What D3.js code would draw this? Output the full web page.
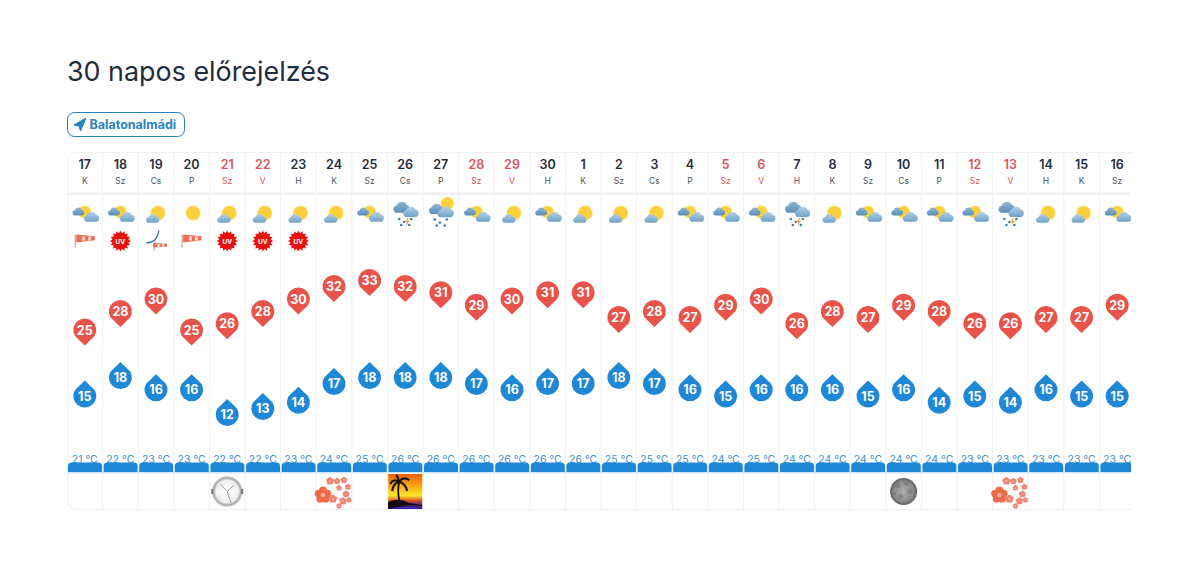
<!DOCTYPE html>
<html lang="hu">
<head>
<meta charset="utf-8">
<script src="https://cdn.jsdelivr.net/npm/d3@7"></script>
<style>
html, body { margin: 0; background: #fff; overflow: hidden; }
text { font-family: Inter, "Noto Sans", sans-serif; }
</style>
</head>
<body>
<svg id="chart" width="1200" height="563"></svg>
<script>
var days = [17,18,19,20,21,22,23,24,25,26,27,28,29,30,1,2,3,4,5,6,7,8,9,10,11,12,13,14,15,16];
var weekdays = ["K","Sz","Cs","P","Sz","V","H","K","Sz","Cs","P","Sz","V","H","K","Sz","Cs","P","Sz","V","H","K","Sz","Cs","P","Sz","V","H","K","Sz"];
var weekend = [4,5,11,12,18,19,25,26];
var highs = [25,28,30,25,26,28,30,32,33,32,31,29,30,31,31,27,28,27,29,30,26,28,27,29,28,26,26,27,27,29];
var lows = [15,18,16,16,12,13,14,17,18,18,18,17,16,17,17,18,17,16,15,16,16,16,15,16,14,15,14,16,15,15];
var means = [21,22,23,23,22,22,23,24,25,26,26,26,26,26,26,25,25,25,24,25,24,24,24,24,24,23,23,23,23,23];
var skies = ["cloudy","cloudy","fair","sun","fair","fair","fair","fair","cloudy","storm","shower","cloudy","fair","cloudy","fair","fair","fair","cloudy","cloudy","cloudy","storm","fair","cloudy","cloudy","cloudy","cloudy","storm","fair","fair","cloudy"];
var badges = ["wind","uv","turbine","wind","uv","uv","uv"];
var events = [null,null,null,null,"clock",null,null,"flower",null,"sunset",null,null,null,null,null,null,null,null,null,null,null,null,null,"moon",null,null,"flower"];

var blue = "#1f88d6", red = "#e8534a", grid = "#eff0f2", ink = "#1f2d3d";
var svg = d3.select("#chart");
var defs = svg.append("defs");

var x = d3.scaleBand().domain(d3.range(days.length)).range([67, 1135]);
var y = d3.scaleLinear().domain([25, 33]).range([330, 280.4]);
var cx = function(i) { return x(i) + x.bandwidth() / 2; };

function grad(id, stops, vertical) {
  var g = defs.append("linearGradient").attr("id", id)
    .attr("x1", 0).attr("y1", 0).attr("x2", vertical ? 0 : 1).attr("y2", vertical ? 1 : 0);
  stops.forEach(function(s) { g.append("stop").attr("offset", s[0]).attr("stop-color", s[1]); });
}
grad("cloudA", [[0, "#b4d0e6"], [1, "#6ea2c8"]], true);
grad("cloudB", [[0, "#8fb6d4"], [1, "#5a90b8"]], true);
grad("sunset", [[0, "#e85f08"], [.3, "#fb9f10"], [.62, "#fde62a"], [.76, "#d8541e"], [.86, "#6a2a7c"], [1, "#2b23b8"]], true);
var rg = defs.append("radialGradient").attr("id", "moon");
rg.append("stop").attr("offset", 0).attr("stop-color", "#b0b0b0");
rg.append("stop").attr("offset", .75).attr("stop-color", "#8a8a8a");
rg.append("stop").attr("offset", 1).attr("stop-color", "#5e5e5e");
var rc = defs.append("radialGradient").attr("id", "clockFace");
rc.append("stop").attr("offset", 0).attr("stop-color", "#ffffff");
rc.append("stop").attr("offset", .72).attr("stop-color", "#f0f0f0");
rc.append("stop").attr("offset", .88).attr("stop-color", "#a8a8a8");
rc.append("stop").attr("offset", 1).attr("stop-color", "#e4e4e4");
var clip = defs.append("clipPath").attr("id", "tableClip");
clip.append("rect").attr("x", 67).attr("y", 152).attr("width", 1064).attr("height", 358);

// title and place button
svg.append("text").attr("x", 67).attr("y", 81).attr("font-size", 27).attr("fill", ink)
  .attr("textLength", 263).attr("lengthAdjust", "spacingAndGlyphs")
  .text("30 napos előrejelzés");
svg.append("rect").attr("x", 67.5).attr("y", 112.5).attr("width", 117).attr("height", 24).attr("rx", 7)
  .attr("fill", "#fff").attr("stroke", "#2a7fb8");
svg.append("path").attr("d", "M74 125 L86 118 L80.5 131 L79 126 Z").attr("fill", "#2a82c4").attr("stroke", "#2a82c4").attr("stroke-linejoin", "round");
svg.append("text").attr("x", 89.5).attr("y", 129).attr("font-size", 12.5).attr("font-weight", 700).attr("fill", "#2a82c4")
  .text("Balatonalmádi");

var table = svg.append("g").attr("clip-path", "url(#tableClip)");

// frame and column rules
table.append("rect").attr("x", 67.5).attr("y", 152.5).attr("width", 1090).attr("height", 357).attr("rx", 9)
  .attr("fill", "#fff").attr("stroke", grid);
table.selectAll("line.col").data(d3.range(1, days.length)).enter().append("line")
  .attr("x1", function(i) { return x(i); }).attr("x2", function(i) { return x(i); })
  .attr("y1", 152).attr("y2", 510).attr("stroke", grid);
table.append("rect").attr("x", 67).attr("y", 192.5).attr("width", 1070).attr("height", 2.5).attr("fill", "#eef0f1");

// day header
var head = table.selectAll("g.day").data(days).enter().append("g")
  .attr("transform", function(d, i) { return "translate(" + cx(i) + ",0)"; });
head.append("text").attr("y", 169).attr("text-anchor", "middle").attr("font-size", 12.5).attr("font-weight", 600)
  .attr("fill", function(d, i) { return weekend.indexOf(i) >= 0 ? "#d8555a" : ink; })
  .text(function(d) { return d; });
head.append("text").attr("y", 184).attr("text-anchor", "middle").attr("font-size", 8.5)
  .attr("fill", function(d, i) { return weekend.indexOf(i) >= 0 ? "#d8555a" : "#4a5560"; })
  .text(function(d, i) { return weekdays[i]; });

// weather icons
function sun(g, px, py, r) {
  var rays = g.append("g").attr("transform", "translate(" + px + "," + py + ")");
  rays.append("circle").attr("r", r + .8).attr("fill", "#fde08a");
  rays.append("circle").attr("r", r).attr("fill", "#fdd03b");
}
function cloud(g, px, py, s, fill) {
  g.append("path").attr("transform", "translate(" + px + "," + py + ") scale(" + s + ")")
    .attr("d", "M-6 5.5 H6 A4.5 4.5 0 0 0 7 -3.4 A6.5 6.5 0 0 0 -5 -3 A4.5 4.5 0 0 0 -6 5.5 Z")
    .attr("fill", fill);
}
function rainDots(g, px, py, bolt) {
  [[-6, 0], [-1, 3], [6, 0], [-4, 6], [4, 6]].forEach(function(p) {
    g.append("circle").attr("cx", px + p[0]).attr("cy", py + p[1]).attr("r", 1.3).attr("fill", "#3f7fb0");
  });
  if (bolt) g.append("path").attr("d", "M" + (px + 2.5) + " " + (py - 1) + "l-2.5 4h2l-1.2 4 3.4-5h-2l1.2-3z").attr("fill", "#f0a030");
}
var drawSky = {
  sun: function(g) { sun(g, 1.5, 213, 6.8); },
  fair: function(g) { sun(g, 2, 213, 6.8); cloud(g, -4, 219, .7, "url(#cloudA)"); },
  cloudy: function(g) {
    sun(g, 0, 212, 5.8);
    cloud(g, -7, 212, .62, "url(#cloudB)");
    cloud(g, 6, 217.5, .78, "url(#cloudA)");
  },
  storm: function(g) {
    cloud(g, -4.5, 208, .85, "url(#cloudB)");
    cloud(g, 5, 212.5, .8, "url(#cloudA)");
    rainDots(g, 0, 219, true);
  },
  shower: function(g) {
    sun(g, 6.5, 203.5, 6);
    cloud(g, -5, 209.5, .8, "url(#cloudB)");
    cloud(g, 4, 212.5, .85, "url(#cloudA)");
    rainDots(g, 0, 219.5, false);
  }
};
table.selectAll("g.sky").data(skies).enter().append("g")
  .attr("transform", function(d, i) { return "translate(" + cx(i) + ",0)"; })
  .each(function(d) { drawSky[d](d3.select(this)); });

function windsock(g, px, py) {
  g.append("path").attr("d", "M" + (px - 9.5) + " " + (py + 9) + "V" + (py - 4)).attr("stroke", "#e39a82").attr("stroke-width", 1.2).attr("fill", "none");
  g.append("path").attr("d", "M" + (px - 8.5) + " " + (py - 4) + "L" + (px + 10) + " " + (py - 2.2) + "V" + (py + 1.8) + "L" + (px - 8.5) + " " + (py + 4) + "Z").attr("fill", "#ee6f58");
  [-2.5, 3.5].forEach(function(o) {
    g.append("rect").attr("x", px + o).attr("y", py - 2).attr("width", 2.6).attr("height", 4).attr("fill", "#fde3dc");
  });
}
var drawBadge = {
  uv: function(g) {
    var pts = d3.range(32).map(function(k) {
      var a = k * Math.PI / 16, r = k % 2 ? 8 : 10.5;
      return [r * Math.sin(a), 241 - r * Math.cos(a)];
    });
    g.append("path").attr("d", d3.line()(pts) + "Z").attr("fill", "#e8100c");
    g.append("text").attr("y", 243.5).attr("text-anchor", "middle").attr("font-size", 6.5).attr("font-weight", 700).attr("fill", "#fff").text("UV");
  },
  wind: function(g) { windsock(g, 0, 238.5); },
  turbine: function(g) {
    g.append("path").attr("d", "M-9.5 243 C-5 242.5 -2 241 -0.5 239 C1.5 236.5 2.5 234 3 230.5").attr("fill", "none").attr("stroke", "#2c6fa6").attr("stroke-width", 1.3);
    g.append("path").attr("d", "M-1 240 L-2 251").attr("stroke", "#8aa6bc").attr("stroke-width", 1);
    g.append("path").attr("d", "M-3 243 L11 243.8 V246.8 L-3 247.5 Z").attr("fill", "#ee6f58");
    [1.5, 6].forEach(function(o) {
      g.append("rect").attr("x", o).attr("y", 244).attr("width", 2.2).attr("height", 2.8).attr("fill", "#fde3dc");
    });
  }
};
table.selectAll("g.badge").data(badges).enter().append("g")
  .attr("transform", function(d, i) { return "translate(" + cx(i) + ",0)"; })
  .each(function(d) { drawBadge[d](d3.select(this)); });

// high temperature pins, point down
var highG = table.selectAll("g.high").data(highs).enter().append("g")
  .attr("transform", function(d, i) { return "translate(" + cx(i) + "," + y(d) + ")"; });
highG.append("path").attr("d", "M-9.8 6 A11.5 11.5 0 1 1 9.8 6 L0 15.5 Z").attr("fill", red);
highG.append("text").attr("y", 4.6).attr("text-anchor", "middle").attr("font-size", 12.5).attr("font-weight", 700).attr("fill", "#fff")
  .text(function(d) { return d; });

// low temperature drops, point up
var lowG = table.selectAll("g.low").data(lows).enter().append("g")
  .attr("transform", function(d, i) { return "translate(" + cx(i) + "," + (y(d) + 4) + ")"; });
lowG.append("path").attr("d", "M-9.8 -6 A11.5 11.5 0 1 0 9.8 -6 L0 -15.5 Z").attr("fill", blue);
lowG.append("text").attr("y", 4.6).attr("text-anchor", "middle").attr("font-size", 12.5).attr("font-weight", 700).attr("fill", "#fff")
  .text(function(d) { return d; });

// mean temperature labels and bars
table.selectAll("text.mean").data(means).enter().append("text")
  .attr("x", function(d, i) { return cx(i); }).attr("y", 462.5).attr("text-anchor", "middle")
  .attr("font-size", 10.5).attr("fill", "#3f8fc8")
  .text(function(d) { return d + " °C"; });
table.selectAll("path.bar").data(means).enter().append("path")
  .attr("d", function(d, i) {
    var l = x(i) + 1, w = x.bandwidth() - 1.6;
    return "M" + l + " 472V466q0-3.5 3.5-3.5H" + (l + w - 3.5) + "q3.5 0 3.5 3.5V472Z";
  })
  .attr("fill", blue);
table.append("rect").attr("x", 68).attr("y", 472).attr("width", 1070).attr("height", 1.5).attr("fill", "#cfe7f7");

// day events
function blossom(g, px, py, r, fill) {
  d3.range(5).forEach(function(k) {
    var a = k * 2 * Math.PI / 5;
    g.append("circle").attr("cx", px + r * .6 * Math.sin(a)).attr("cy", py - r * .6 * Math.cos(a))
      .attr("r", r * .52).attr("fill", fill);
  });
  g.append("circle").attr("cx", px).attr("cy", py).attr("r", r * .3).attr("fill", "#f7b49c");
}
var drawEvent = {
  clock: function(g) {
    g.append("circle").attr("cy", 491.5).attr("r", 15.5).attr("fill", "url(#clockFace)");
    g.append("path").attr("d", "M0 491.5L-7 484M0 491.5L7 485M0 491.5L4 503").attr("stroke", "#888").attr("stroke-width", .8).attr("fill", "none");
    g.append("rect").attr("x", -16).attr("y", 489).attr("width", 2).attr("height", 5).attr("fill", "#777");
    g.append("rect").attr("x", 14).attr("y", 489).attr("width", 2).attr("height", 5).attr("fill", "#777");
  },
  flower: function(g) {
    blossom(g, -11, 495, 7.5, "#ee6a4a");
    [[-4,481,3.6],[3,481,3],[10,480,3],[14,487,2.8],[5,488,2.6],[12,494,3.2],[-1,499,3.8],[9,501,3.4],[15,500,2.4],[5,506,2.4]].forEach(function(p) {
      blossom(g, p[0], p[1], p[2], "#f08272");
    });
  },
  sunset: function(g) {
    g.append("rect").attr("x", -17).attr("y", 474).attr("width", 34).attr("height", 35).attr("fill", "url(#sunset)");
    g.append("path").attr("d", "M-17 502 Q-6 497 4 503 L17 505 V506 Q0 504 -17 509 Z").attr("fill", "#150a12");
    g.append("path").attr("d", "M-6 500 Q-8 490 -6 482").attr("stroke", "#111").attr("stroke-width", 1.8).attr("fill", "none");
    g.append("path").attr("d", "M-6 482 Q-12 478 -15 484 M-6 482 Q-12 483 -13 491 M-6 482 Q-2 476 4 480 M-6 482 Q0 483 2 491 M-6 482 Q-7 477 -9 475").attr("stroke", "#111").attr("stroke-width", 2.2).attr("fill", "none");
  },
  moon: function(g) {
    g.append("circle").attr("cy", 491.5).attr("r", 13.5).attr("fill", "url(#moon)");
    [[-6,-6,3],[3,-8,2.5],[6,0,3],[-3,5,2.5],[-9,2,1.6]].forEach(function(p) {
      g.append("circle").attr("cx", p[0]).attr("cy", 491.5 + p[1]).attr("r", p[2]).attr("fill", "#666").attr("opacity", .35);
    });
  }
};
table.selectAll("g.event").data(events).enter().append("g")
  .attr("transform", function(d, i) { return "translate(" + cx(i) + ",0)"; })
  .each(function(d) { if (d) drawEvent[d](d3.select(this)); });
</script>
</body>
</html>
